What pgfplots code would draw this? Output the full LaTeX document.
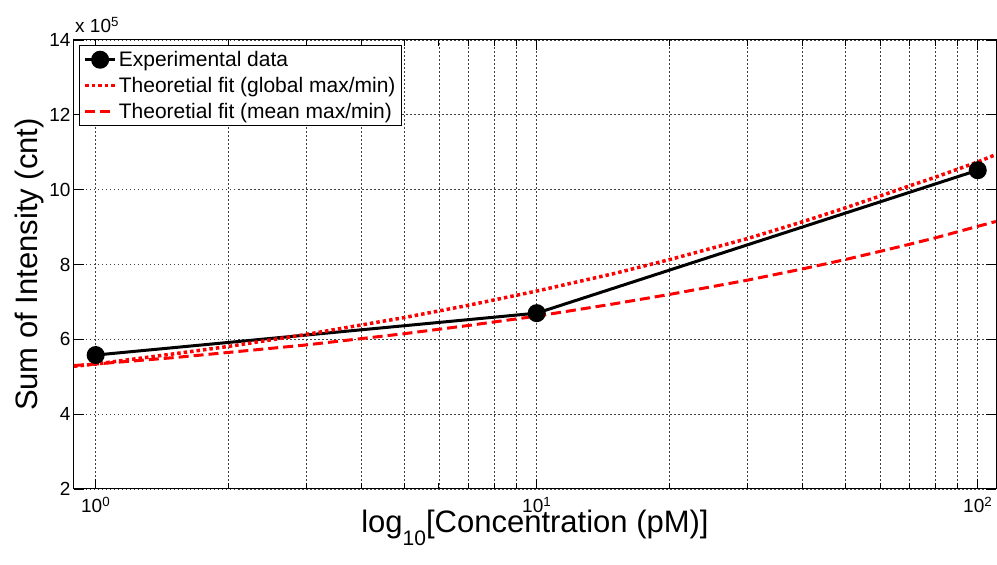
\documentclass[border=0pt]{standalone}
\usepackage{fontspec}
\setmainfont{Liberation Sans}
\usepackage{pgfplots}
\pgfplotsset{compat=1.18}
\begin{document}
\begin{tikzpicture}
\useasboundingbox (-74pt,-76pt) rectangle (923pt,489pt);
\begin{semilogxaxis}[
  name=ax,
  at={(0pt,0pt)}, anchor=south west,
  scale only axis, width=922pt, height=449pt,
  xmin=0.893, xmax=110, ymin=2, ymax=14,
  xtick={1,10,100},
  xticklabels={10\textsuperscript{0},10\textsuperscript{1},10\textsuperscript{2}},
  minor xtick={2,3,4,5,6,7,8,9,20,30,40,50,60,70,80,90},
  ytick={2,4,6,8,10,12,14},
  /pgf/number format/assume math mode=true,
  tick align=inside,
  major tick length=10pt, minor tick length=6pt,
  tick style={black, line width=0.8pt},
  axis line style={black, line width=1pt},
  grid=both,
  major grid style={black!75, line width=0.7pt, dash pattern=on 1.5pt off 2.5pt},
  minor grid style={black!75, line width=0.7pt, dash pattern=on 1.5pt off 2.5pt},
  tick label style={font=\fontsize{19}{22}\selectfont},
  xticklabel style={anchor=north, inner sep=0pt, yshift=-8pt},
  xlabel={log\raisebox{-0.42em}{\fontsize{21}{21}\selectfont 10}[Concentration (pM)]},
  ylabel={Sum of Intensity (cnt)},
  label style={font=\fontsize{31}{35}\selectfont},
  xlabel style={at={(axis description cs:0.5,-0.0975)}, anchor=base, inner sep=0pt, text height=0.45em},
  ylabel style={at={(axis description cs:-0.0401,0.5)}, anchor=base, inner sep=0pt},
  legend style={at={(axis description cs:0.0054,0.9889)}, anchor=north west,
    draw=black, line width=0.8pt, fill=white,
    font=\fontsize{21}{24}\selectfont, cells={anchor=west},
    row sep=5pt, inner xsep=4pt, inner ysep=4pt},
  legend image code/.code={\draw[mark repeat=2,mark phase=2,#1] plot coordinates {(0pt,0pt) (15pt,0pt) (30pt,0pt)};},
]
\addplot[black, line width=3pt, mark=*, mark size=7.5pt, mark options={solid, fill=black}]
  coordinates {(1,5.58) (10,6.70) (100,10.52)};
\addlegendentry{Experimental data}
\addplot[red, line width=3.5pt, dash pattern=on 3.5pt off 3pt]
  coordinates {(0.893,5.28) (1,5.34) (1.5,5.61) (2,5.81) (3,6.13) (5,6.58) (7,6.91) (10,7.29) (15,7.76) (20,8.13) (30,8.69) (40,9.14) (50,9.51) (60,9.83) (70,10.10) (80,10.33) (100,10.74) (110,10.94)};
\addlegendentry{Theoretial fit (global max/min)}
\addplot[red, line width=3pt, dash pattern=on 10pt off 5pt]
  coordinates {(0.893,5.30) (1,5.34) (1.5,5.51) (2,5.65) (3,5.85) (5,6.15) (7,6.37) (10,6.62) (15,6.95) (20,7.20) (30,7.58) (40,7.88) (50,8.13) (60,8.35) (70,8.54) (80,8.71) (100,9.02) (110,9.15)};
\addlegendentry{Theoretial fit (mean max/min)}
\end{semilogxaxis}
\node[anchor=base west, font=\fontsize{19}{22}\selectfont, inner sep=0pt] at ([xshift=1pt,yshift=7pt]ax.north west) {x 10\textsuperscript{5}};
\end{tikzpicture}
\end{document}
